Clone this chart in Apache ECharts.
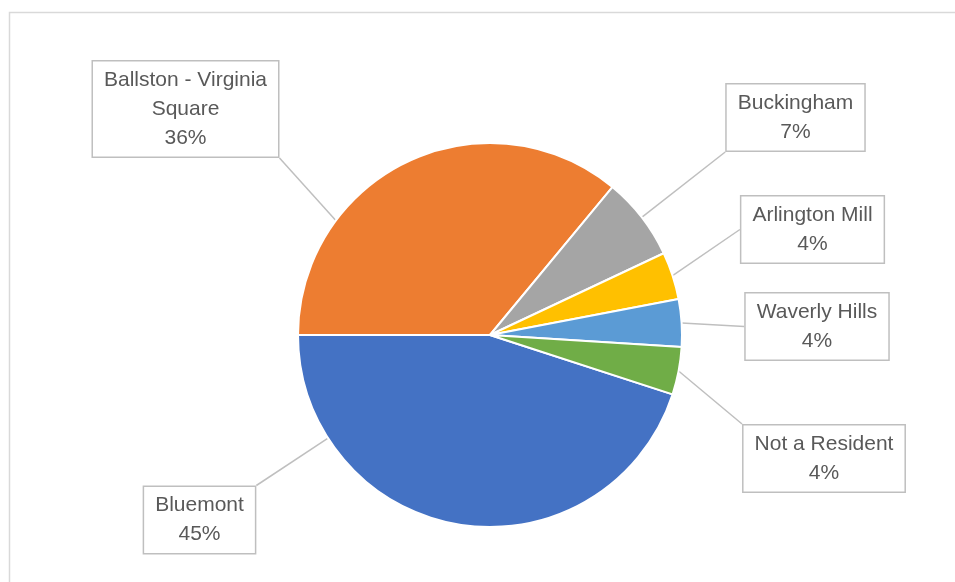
<!DOCTYPE html>
<html>
<head>
<meta charset="utf-8">
<script src="https://cdn.jsdelivr.net/npm/echarts@6/dist/echarts.min.js"></script>
<style>
  html, body { margin: 0; padding: 0; background: #fff; }
  #chart { width: 955px; height: 582px; }
</style>
</head>
<body>
<div id="chart"></div>
<script>
// data
const categories = ['Bluemont', 'Ballston - Virginia Square', 'Buckingham', 'Arlington Mill', 'Waverly Hills', 'Not a Resident'];
const shares = [45, 36, 7, 4, 4, 4];
const sliceColors = ['#4472C4', '#ED7D31', '#A5A5A5', '#FFC000', '#5B9BD5', '#70AD47'];

// label box centres (layout only)
const labelSpots = [
    [199.5, 520],
    [185.5, 109],
    [795.5, 117.5],
    [812.5, 229.5],
    [817, 326.5],
    [824, 458.5]
];

const pieCenter = [490, 335];
const pieRadius = 192;
const pieStart = -18;   // degrees, echarts convention (ccw from 3 o'clock)

// long names wrap onto two lines like the original
const wrapName = (name) => {
    if (name.length <= 20) return name;
    const cut = name.lastIndexOf(' ');
    return name.slice(0, cut) + '\n' + name.slice(cut + 1);
};

// leader line: from the slice edge towards the label box, like excel does
const total = shares.reduce((a, b) => a + b, 0);
const leaderPoints = (idx, rect) => {
    let cum = 0;
    for (let i = 0; i < idx; i++) cum += shares[i];
    const a0 = pieStart - 360 * cum / total;            // slice start (larger angle)
    const span = 360 * shares[idx] / total;
    const a1 = a0 - span;                              // slice end
    const [lx, ly] = labelSpots[idx];
    let dir = Math.atan2(-(ly - pieCenter[1]), lx - pieCenter[0]) * 180 / Math.PI;
    while (dir < a1) dir += 360;
    while (dir >= a1 + 360) dir -= 360;
    const m = Math.min(span / 2, 30);
    const ang = Math.max(a1 + m, Math.min(a0 - m, dir)) * Math.PI / 180;
    const px = pieCenter[0] + pieRadius * Math.cos(ang);
    const py = pieCenter[1] - pieRadius * Math.sin(ang);
    const x0 = lx - rect.width / 2, x1 = lx + rect.width / 2;
    const y0 = ly - rect.height / 2, y1 = ly + rect.height / 2;
    let qx = Math.max(x0, Math.min(x1, px));
    let qy = Math.max(y0, Math.min(y1, py));
    // roughly level with the box: hook onto the middle of its side
    if ((px < x0 || px > x1) && py > y0 - 15 && py < y1 + 15) qy = ly;
    return [[px, py], [qx, qy], [qx, qy]];
};

const chart = echarts.init(document.getElementById('chart'));

chart.setOption({
    animation: false,
    color: sliceColors,
    graphic: [{
        type: 'rect',
        shape: { x: 9.5, y: 12.5, width: 1000, height: 700 },
        style: { fill: 'none', stroke: '#d9d9d9', lineWidth: 1.5 },
        silent: true
    }],
    series: [{
        type: 'pie',
        center: pieCenter,
        radius: pieRadius,
        startAngle: pieStart,
        clockwise: true,
        avoidLabelOverlap: false,
        percentPrecision: 0,
        itemStyle: { borderColor: '#fff', borderWidth: 2 },
        data: categories.map((name, i) => ({ name: name, value: shares[i] })),
        label: {
            show: true,
            position: 'outside',
            formatter: (p) => wrapName(p.name) + '\n' + p.percent + '%',
            fontFamily: 'Liberation Sans',
            fontSize: 21,
            lineHeight: 29,
            color: '#595959',
            align: 'center',
            backgroundColor: '#fff',
            borderColor: '#bfbfbf',
            borderWidth: 1.5,
            padding: [4, 11]
        },
        labelLine: {
            show: true,
            length: 10,
            length2: 0,
            lineStyle: { color: '#bfbfbf', width: 1.5 }
        },
        labelLayout: (params) => ({
            x: labelSpots[params.dataIndex][0],
            y: labelSpots[params.dataIndex][1],
            align: 'center',
            verticalAlign: 'middle',
            labelLinePoints: leaderPoints(params.dataIndex, params.labelRect)
        })
    }]
});
</script>
</body>
</html>
